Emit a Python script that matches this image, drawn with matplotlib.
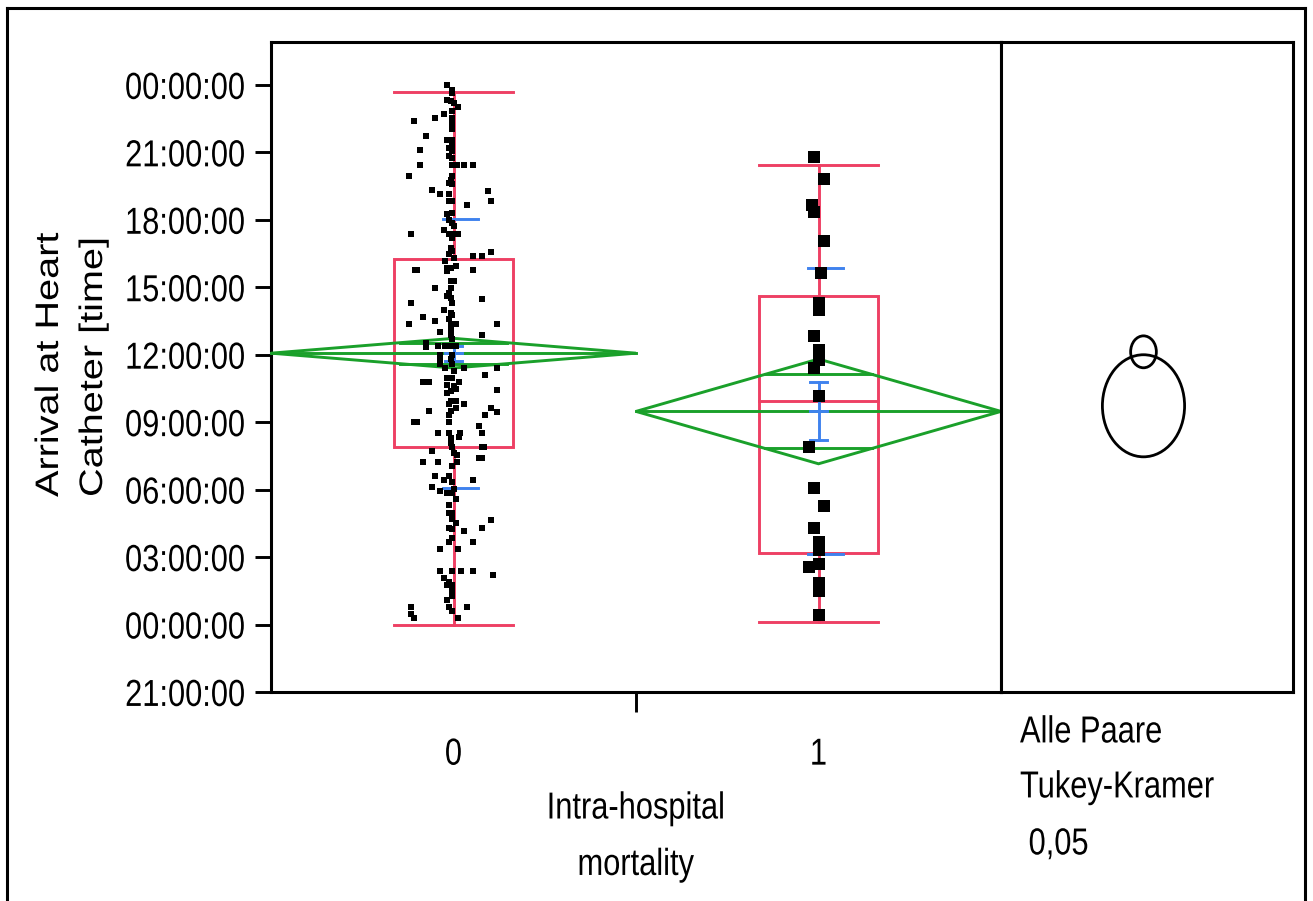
import numpy as np
import matplotlib
matplotlib.use('Agg')
import matplotlib.pyplot as plt
from matplotlib.patches import Ellipse, Polygon, Rectangle
from matplotlib.patheffects import AbstractPathEffect
from matplotlib.transforms import Affine2D
from matplotlib.path import Path

# Ankunftszeit (Stunden) und Jitter je Gruppe
groups = [0, 1]

hours_0 = [23.99, 23.79, 23.64, 23.35, 23.30, 23.20, 23.02, 22.86, 22.72, 22.53, 22.39, 22.53, 22.31, 22.06,
           21.75, 21.57, 21.57, 21.35, 21.10, 21.20, 21.05, 20.83, 20.76, 20.43, 20.43, 20.43, 20.43, 20.43,
           19.96, 19.94, 19.79, 19.64, 19.60, 19.32, 19.16, 19.16, 19.30, 18.83, 18.83, 18.83, 18.67, 18.24, 18.31,
           18.01, 17.87, 17.72, 17.39, 17.54, 17.39, 17.39, 17.39, 17.20, 16.76, 16.61, 16.49, 16.58, 16.41, 16.41,
           16.31, 16.16, 15.79, 15.79, 15.87, 15.87, 15.94, 15.72, 15.76, 15.28, 15.28, 14.98, 14.96, 14.76, 14.61,
           14.53, 14.32, 14.49, 14.31, 14.01, 13.87, 13.79, 13.68, 13.50, 13.57, 13.35, 13.35, 13.35, 13.35, 13.12,
           13.02, 12.90, 12.88, 12.68, 12.53, 12.34, 12.39, 12.39, 12.39, 12.39, 11.99, 12.01,
           11.79, 11.79, 11.57, 11.42, 11.57, 11.42, 11.42, 11.28, 11.10, 10.95, 10.95, 10.79, 10.79, 10.79, 10.65,
           10.61, 10.43, 10.31, 10.39, 10.46, 9.94, 9.94, 9.82, 9.79, 9.64, 9.64, 9.50, 9.50, 9.47, 9.32, 9.32,
           9.01, 9.01, 9.01, 8.83, 8.52, 8.53, 8.50, 8.53, 8.36, 8.31, 8.09, 7.72, 7.90, 7.90, 7.90, 7.64, 7.54,
           7.39, 7.39, 7.23, 7.23, 7.23, 7.05, 6.59, 6.41, 6.59, 6.36, 6.41, 6.12, 5.94, 5.87, 5.87, 6.01,
           5.57, 5.32, 4.98, 4.98, 4.68, 4.53, 4.31, 4.24, 4.64, 4.31, 4.16, 3.87, 3.69, 3.68, 3.35, 3.35, 2.39,
           2.39, 2.39, 2.39, 2.21, 2.06, 1.91, 1.76, 1.76, 1.50, 1.28, 1.10, 0.79, 0.61, 0.79, 0.79, 0.46, 0.28, 0.28]
jitter_0 = [-0.019, -0.004, -0.004, -0.017, -0.008, 0.001, 0.013, -0.004, -0.027, -0.052, -0.107, -0.004, -0.004,
            -0.004, -0.075, -0.019, -0.004, -0.004, -0.091, -0.013, -0.004, -0.013, -0.004, -0.091, -0.004, 0.010,
            0.028, 0.053, -0.123, -0.004, -0.008, -0.013, -0.004, -0.059, -0.036, -0.011, 0.094, -0.013, -0.004,
            0.102, 0.038, -0.017, -0.004,
            -0.013, -0.004, 0.001, -0.117, -0.027, -0.013, 0.001, 0.013, -0.004, -0.008, -0.004, -0.013, 0.102,
            0.053, 0.077, 0.001, -0.022, -0.105, -0.100, -0.017, -0.008, 0.006, -0.017, 0.053, -0.008, 0.001,
            -0.008, -0.052, -0.013, -0.017, -0.008, -0.116, 0.077, -0.004, -0.027, -0.008, -0.004, -0.083, -0.052,
            -0.013, -0.008, -0.123, 0.006, 0.118, -0.008, -0.036, -0.008, 0.077, -0.004, -0.075, -0.075, -0.043,
            -0.022, -0.008, 0.006, -0.036, -0.004,
            -0.036, -0.008, -0.036, -0.022, -0.004, 0.028, 0.118, 0.001, 0.086, -0.017, -0.004, -0.083, -0.068,
            0.015, -0.017, 0.001, 0.118, -0.017, -0.008, 0.006, -0.008, 0.006, 0.028, -0.013, 0.006, 0.102, -0.068,
            -0.008, 0.118, -0.013, 0.086, -0.109, -0.100, -0.013, 0.070, -0.043, -0.013, 0.077, 0.019, 0.015,
            -0.008, -0.006, -0.059, -0.004, 0.077, 0.083, 0.001, 0.010, 0.077, 0.070, -0.083, -0.043, 0.010,
            -0.004, -0.052, -0.027, -0.011, -0.004, 0.053, -0.059, -0.036, -0.017, -0.004, 0.001,
            0.006, -0.011, -0.011, -0.004, -0.004, 0.006, -0.011, -0.004, 0.102, 0.077, 0.028, -0.004, -0.011,
            0.053, -0.036, 0.013, -0.036, -0.004, 0.021, 0.053, 0.109, -0.027, -0.011, -0.017, -0.004, -0.004,
            -0.004, -0.017, -0.011, -0.004, 0.038, -0.117, -0.117, -0.107, 0.013]

hours_1 = [20.80, 19.82, 18.67, 18.36, 17.07, 15.64, 14.31, 14.00, 12.84, 12.22, 11.78, 11.42, 10.18,
           7.91, 6.09, 5.29, 4.31, 3.69, 3.33, 2.71, 2.58, 1.87, 1.47, 0.44]
jitter_1 = [-0.011, 0.014, -0.017, -0.011, 0.014, 0.006, 0.0, 0.0, -0.011, 0.0, 0.0, -0.011, 0.0,
            -0.025, -0.011, 0.014, -0.011, 0.0, 0.0, 0.0, -0.025, 0.0, 0.0, 0.0]

# Quantile-Box, Mittelwert-Raute, Std-Abw., Std-Fehler
whisk_lo = [0.0, 0.13]
q1 = [7.91, 3.20]
median = [12.09, 9.96]
q3 = [16.27, 14.62]
whisk_hi = [23.69, 20.44]
means = [12.07, 9.48]
sds = [5.98, 6.36]
ses = [0.33, 1.29]
ci95 = [0.66, 2.33]

# Vergleichskreise (Tukey-Kramer)
circ_center = [12.13, 9.73]
circ_radius = [0.71, 2.27]

y_ticks = list(range(-3, 25, 3))
y_ticklabels = ['%02d:00:00' % (h % 24) for h in y_ticks]

RED = '#EE4064'
GREEN = '#1AA02A'
BLUE = '#3F82EE'
FONT = 'Liberation Sans'
FS = 22.2      # Layoutgroesse; Glyphen werden senkrecht gestreckt (Schmalschrift)
TALL = 1.22


class Stretch(AbstractPathEffect):
    """Glyphen in Textrichtung (sx) bzw. quer dazu (sy) skalieren."""

    def __init__(self, sx=1.0, sy=TALL, anchor='left', ycap=True):
        super().__init__()
        self.sx, self.sy, self.anchor, self.ycap = sx, sy, anchor, ycap

    def draw_path(self, renderer, gc, tpath, affine, rgbFace=None):
        v = tpath.vertices
        if tpath.codes is not None:
            v = v[tpath.codes != Path.CLOSEPOLY]
        if len(v) == 0:
            return
        xs = v[:, 0]
        x0 = {'left': 0.0, 'center': (xs.min() + xs.max()) / 2, 'right': xs.max()}[self.anchor]
        y0 = 35.8 if self.ycap else 0.0
        t = Affine2D().translate(-x0, -y0).scale(self.sx, self.sy).translate(x0, y0) + affine
        renderer.draw_path(gc, tpath, t, rgbFace)


W, H = 1313, 901
fig = plt.figure(figsize=(W / 100, H / 100), dpi=100)

def px_box(x0, x1, y0, y1):
    return [x0 / W, 1 - y1 / H, (x1 - x0) / W, (y1 - y0) / H]

ax = fig.add_axes(px_box(271, 1001, 42, 692))
ax2 = fig.add_axes(px_box(1001, 1293, 42, 692))

ax.set_xlim(-0.5, 1.5)
ax.set_ylim(-2.98, 25.91)

box_hw = 0.164
lw = 2.1
for i, c in enumerate(groups):
    # Box-Plot
    ax.add_patch(Rectangle((c - box_hw, q1[i]), 2 * box_hw, q3[i] - q1[i], fill=False,
                           edgecolor=RED, lw=lw, zorder=2))
    ax.plot([c - box_hw, c + box_hw], [median[i]] * 2, color=RED, lw=lw, zorder=2)
    ax.plot([c, c], [q3[i], whisk_hi[i]], color=RED, lw=lw, zorder=2)
    ax.plot([c, c], [whisk_lo[i], q1[i]], color=RED, lw=lw, zorder=2)
    for w in (whisk_lo[i], whisk_hi[i]):
        ax.plot([c - box_hw, c + box_hw], [w, w], color=RED, lw=lw, zorder=2)

    # Mittelwert-Raute
    m, ci = means[i], ci95[i]
    ax.add_patch(Polygon([(c - 0.5, m), (c, m + ci), (c + 0.5, m), (c, m - ci)], closed=True,
                         fill=False, edgecolor=GREEN, lw=lw, zorder=3, clip_on=False))
    ax.plot([c - 0.5, c + 0.5], [m, m], color=GREEN, lw=lw, zorder=3, clip_on=False)
    ov = ci / np.sqrt(2)
    ohw = 0.5 * (1 - 1 / np.sqrt(2))
    for y in (m - ov, m + ov):
        ax.plot([c - ohw, c + ohw], [y, y], color=GREEN, lw=lw, zorder=3)

    # Std-Abw. und Std-Fehler
    for y in (m - sds[i], m + sds[i]):
        ax.plot([c + 0.018 - 0.048, c + 0.018 + 0.048], [y, y], color=BLUE, lw=lw, zorder=4)
    ax.plot([c, c], [m - ses[i], m + ses[i]], color=BLUE, lw=lw, zorder=4)
    for y in (m - ses[i], m, m + ses[i]):
        ax.plot([c - 0.024, c + 0.024], [y, y], color=BLUE, lw=lw, zorder=4)

ax.plot(np.array(jitter_0) + groups[0], hours_0, 's', color='black', ms=4.6, mew=0, zorder=5)
ax.plot(np.array(jitter_1) + groups[1], hours_1, 's', color='black', ms=9.3, mew=0, zorder=5)

ax.set_yticks(y_ticks)
ax.set_yticklabels(y_ticklabels, fontfamily=FONT, fontsize=FS)
ax.tick_params(axis='y', direction='out', length=11.5, width=2.1, pad=6.5)
ax.set_xticks(groups)
ax.set_xticklabels([str(g) for g in groups], fontfamily=FONT, fontsize=FS)
ax.set_xticks([0.5], minor=True)
ax.tick_params(axis='x', which='major', length=0, pad=34)
ax.tick_params(axis='x', which='minor', direction='out', length=14.5, width=2.1)
for lbl in ax.get_yticklabels():
    lbl.set_path_effects([Stretch(anchor='right')])
for lbl in ax.get_xticklabels():
    lbl.set_path_effects([Stretch(anchor='center')])

xl = ax.set_xlabel('Intra-hospital\nmortality', fontfamily=FONT, fontsize=FS, linespacing=2.15, va='center')
xl.set_path_effects([Stretch(anchor='center')])
ax.xaxis.set_label_coords(0.5, -0.222)

for a in (ax, ax2):
    for s in a.spines.values():
        s.set_linewidth(2.2)

# Vergleichskreise
kx = 0.062
ax2.set_xlim(0, 1)
ax2.set_ylim(ax.get_ylim())
ax2.set_xticks([])
ax2.set_yticks([])
for cy, r in zip(circ_center, circ_radius):
    ax2.add_patch(Ellipse((0.488, cy), 2 * r * kx, 2 * r, fill=False, edgecolor='black', lw=2.0))

for txt, ypx in (('Alle Paare', 732), ('Tukey-Kramer', 787), (' 0,05', 844)):
    t = fig.text(1020 / W, 1 - ypx / H, txt, fontfamily=FONT, fontsize=FS, va='center')
    t.set_path_effects([Stretch(anchor='left')])

# Achsentitel: in Textrichtung gestreckt, quer schmal
yl = fig.text(72 / W, 1 - 497 / H, 'Arrival at Heart\nCatheter [time]', rotation=90, ha='center',
              va='bottom', multialignment='left', fontfamily=FONT, fontsize=23.4, linespacing=1.61)
yl.set_path_effects([Stretch(sx=TALL, sy=1.0, anchor='left', ycap=False)])

# Rahmen (oben, links, rechts)
fig.add_artist(plt.Line2D([7 / W, 7 / W], [0, 1 - 8 / H], color='black', lw=2.2))
fig.add_artist(plt.Line2D([7 / W, 1305 / W], [1 - 8 / H, 1 - 8 / H], color='black', lw=2.2))
fig.add_artist(plt.Line2D([1305 / W, 1305 / W], [1 - 8 / H, 0], color='black', lw=2.2))

fig.savefig('out.png', dpi=100)
